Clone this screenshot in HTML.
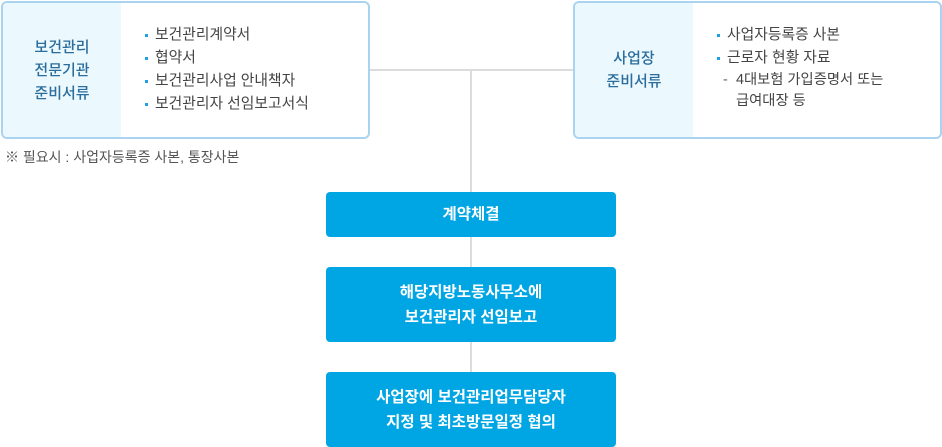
<!DOCTYPE html>
<html><head><meta charset="utf-8"><style>
*{margin:0;padding:0;box-sizing:border-box}
body{width:942px;height:447px;background:#fff;position:relative;overflow:hidden;font-family:"Liberation Sans","Noto Sans CJK KR",sans-serif;}
.line{position:absolute;background:#dcdcdc}
.card{position:absolute;border:2px solid #a9d3ef;border-radius:6px;background:#fff;overflow:hidden}
.hd{position:absolute;left:0;top:0;bottom:0;background:#ebf8fd;color:#2b6d9c;font-size:15px;line-height:23px;display:flex;align-items:center;justify-content:center;text-align:center;font-weight:500}
ul{position:absolute;list-style:none;font-size:14.8px;color:#444;line-height:23px}
li{position:relative;padding-left:10px;white-space:nowrap}
li:before{content:"";position:absolute;left:0;top:10px;width:3px;height:3px;background:#1fa0e4}
li.sub{padding-left:19px;line-height:21px;font-size:14.3px}
li.sub:before{background:none;content:"-";top:0;left:6px;width:auto;height:auto;color:#666}
.note{position:absolute;left:5px;top:147px;font-size:14px;color:#555;white-space:nowrap}
.bx{position:absolute;left:326px;width:290px;background:#00a5e3;border-radius:4px;color:#fff;font-size:15.5px;font-weight:bold;display:flex;align-items:center;justify-content:center;text-align:center;line-height:25px}
</style></head><body>
<div class="line" style="left:369px;top:69px;width:204px;height:2px"></div>
<div class="line" style="left:470px;top:69px;width:2px;height:378px"></div>
<div class="card" style="left:1px;top:1px;width:369px;height:138px">
 <div class="hd" style="width:118px">보건관리<br>전문기관<br>준비서류</div>
 <ul style="left:142px;top:21px">
  <li>보건관리계약서</li><li>협약서</li><li>보건관리사업 안내책자</li><li>보건관리자 선임보고서식</li>
 </ul>
</div>
<div class="note">※ 필요시 : 사업자등록증 사본, 통장사본</div>
<div class="card" style="left:573px;top:1px;width:369px;height:138px">
 <div class="hd" style="width:118px">사업장<br>준비서류</div>
 <ul style="left:142px;top:21px">
  <li>사업자등록증 사본</li><li>근로자 현황 자료</li>
  <li class="sub">4대보험 가입증명서 또는<br>급여대장 등</li>
 </ul>
</div>
<div class="bx" style="top:192px;height:45px">계약체결</div>
<div class="bx" style="top:267px;height:75px">해당지방노동사무소에<br>보건관리자 선임보고</div>
<div class="bx" style="top:372px;height:75px">사업장에 보건관리업무담당자<br>지정 및 최초방문일정 협의</div>
</body></html>
